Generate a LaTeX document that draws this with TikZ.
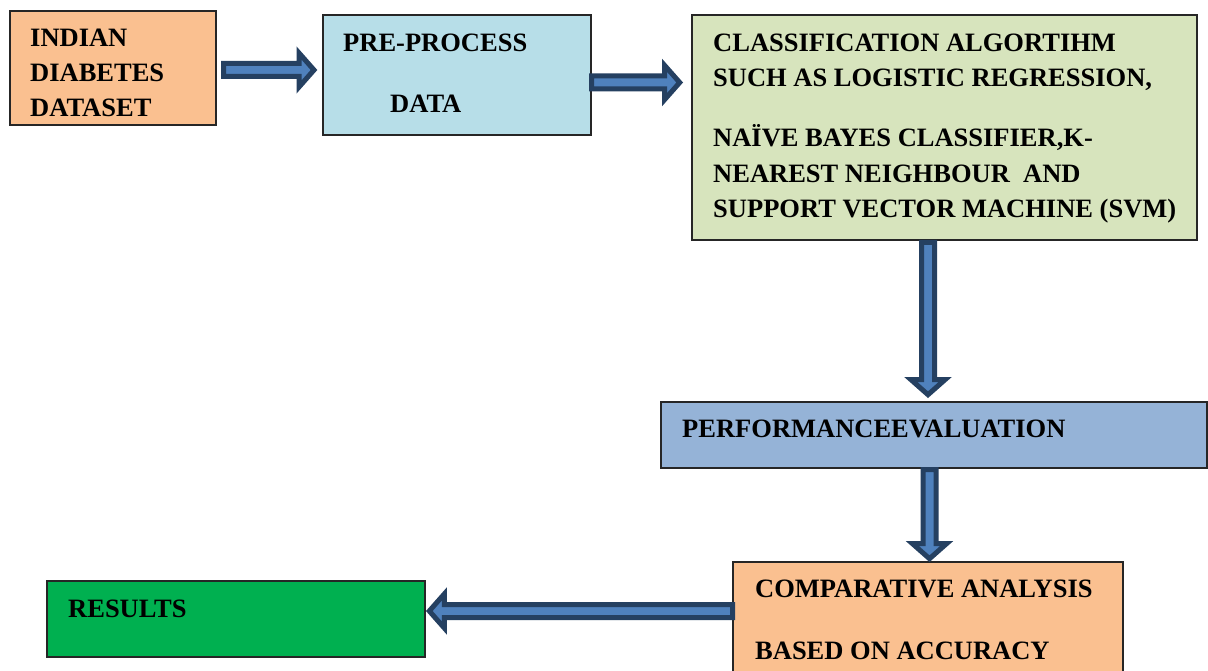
\documentclass[tikz,border=0pt]{standalone}
\usepackage{fontspec}
\setmainfont{Liberation Serif}
\usetikzlibrary{calc}

\definecolor{peach}{HTML}{FAC090}
\definecolor{skyfill}{HTML}{B7DEE8}
\definecolor{sagefill}{HTML}{D7E4BD}
\definecolor{steelfill}{HTML}{95B3D7}
\definecolor{resgreen}{HTML}{00B050}
\definecolor{arrowedge}{HTML}{254061}
\definecolor{arrowfill}{HTML}{4F81BD}

\tikzset{
  box/.style={draw=black!85, line width=1.2pt, anchor=north west, inner sep=0pt, outer sep=0pt},
  txt/.style={anchor=base west, inner sep=0pt, font=\fontsize{26.5}{35}\selectfont\bfseries},
  barrow/.style={draw=arrowedge, fill=arrowfill, line width=5pt, line join=miter},
}

% block arrow whose shaft starts at #1 and whose tip is at #2
\newcommand\blockarrow[2]{%
  \draw[barrow] let \p1=($(#2)-(#1)$), \n1={veclen(\x1,\y1)}, \n2={atan2(\y1,\x1)} in
    [shift={(#1)}, rotate=\n2]
    (0pt,-6.5pt) -- ({\n1*1pt-15pt},-6.5pt) -- ({\n1*1pt-15pt},-17pt) -- ({\n1*1pt},0pt)
    -- ({\n1*1pt-15pt},17pt) -- ({\n1*1pt-15pt},6.5pt) -- (0pt,6.5pt) -- cycle;}

\begin{document}
\begin{tikzpicture}[x=1pt, y=-1pt]
\clip (0,0) rectangle (1208,671);
\fill[white] (0,0) rectangle (1208,671);

% boxes
\node[box, fill=peach, minimum width=206, minimum height=114] (ds) at (10,11) {};
\node[box, fill=skyfill, minimum width=268, minimum height=120] (pp) at (323,15) {};
\node[box, fill=sagefill, minimum width=505, minimum height=225] (cl) at (692,15) {};
\node[box, fill=steelfill, minimum width=546, minimum height=66] (pe) at (661,402) {};
\node[box, fill=peach, minimum width=390, minimum height=130] (ca) at (733,562) {};
\node[box, fill=resgreen, minimum width=378, minimum height=76] (rs) at (47,581) {};

% labels
\node[txt] (ds1) at (30,47) {INDIAN};
\node[txt] (ds2) at (30,82) {DIABETES};
\node[txt] (ds3) at (30,117) {DATASET};

\node[txt] (pp1) at (343,52) {PRE-PROCESS};
\node[txt] (pp2) at (390,113) {DATA};

\node[txt] (cl1) at (713,52) {CLASSIFICATION ALGORTIHM};
\node[txt] (cl2) at (713,87) {SUCH AS LOGISTIC REGRESSION,};
\node[txt] (cl3) at (713,147) {NAÏVE BAYES CLASSIFIER,K-};
\node[txt] (cl4) at (713,183) {NEAREST NEIGHBOUR\ \ AND};
\node[txt] (cl5) at (713,218) {SUPPORT VECTOR MACHINE (SVM)};

\node[txt] (pe1) at (682,437) {PERFORMANCEEVALUATION};

\node[txt] (ca1) at (755,597) {COMPARATIVE ANALYSIS};
\node[txt] (ca2) at (755,659) {BASED ON ACCURACY};

\node[txt] (rs1) at (68,617) {RESULTS};

% connectors
\coordinate (a1s) at ($(ds.east)+(7.5,2)$);
\coordinate (a1t) at ($(pp.west)+(-9,-5)$);
\coordinate (a2s) at ($(pp.east)+(0.5,7.5)$);
\coordinate (a2t) at ($(cl.west)+(-12.3,-45)$);
\coordinate (a3s) at ($(cl.south)+(-16.5,2.5)$);
\coordinate (a3t) at ($(pe.north)+(-6,-7.3)$);
\coordinate (a4s) at ($(pe.south)+(-4.5,1.5)$);
\coordinate (a4t) at ($(ca.north)+(1.5,-3.3)$);
\coordinate (a5s) at ($(ca.west)+(-0.5,-16)$);
\coordinate (a5t) at ($(rs.east)+(4.3,-8)$);

\blockarrow{a1s}{a1t}
\blockarrow{a2s}{a2t}
\blockarrow{a3s}{a3t}
\blockarrow{a4s}{a4t}
\blockarrow{a5s}{a5t}
\end{tikzpicture}
\end{document}
